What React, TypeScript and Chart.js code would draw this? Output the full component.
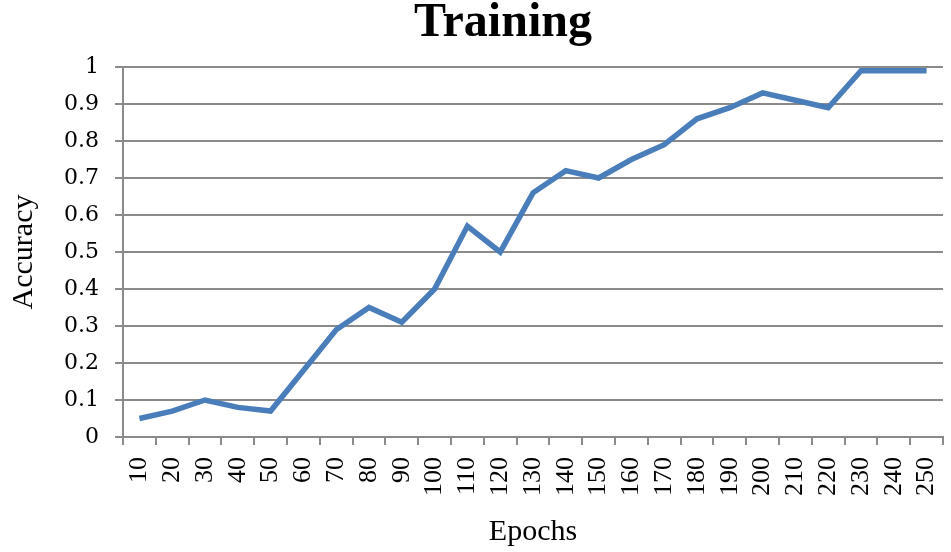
import React, { useEffect, useRef } from "react";
import { Chart, registerables } from "chart.js";

Chart.register(...registerables);

const epochs = ["10","20","30","40","50","60","70","80","90","100","110","120","130","140","150","160","170","180","190","200","210","220","230","240","250"];
const accuracy = [0.05,0.07,0.10,0.08,0.07,0.18,0.29,0.35,0.31,0.40,0.57,0.50,0.66,0.72,0.70,0.75,0.79,0.86,0.89,0.93,0.91,0.89,0.99,0.99,0.99];
const chartTitle = "Training";
const xTitle = "Epochs";
const yTitle = "Accuracy";

const titlePlugin = {
  id: "offsetTitle",
  afterDraw(chart: any) {
    const ctx = chart.ctx;
    ctx.save();
    ctx.fillStyle = "#000";
    ctx.font = "bold 48px 'Liberation Serif', serif";
    ctx.textAlign = "center";
    ctx.textBaseline = "alphabetic";
    ctx.fillText(chartTitle, 503, 36);
    ctx.restore();
  },
};

export default function App() {
  const ref = useRef<HTMLCanvasElement | null>(null);
  useEffect(() => {
    if (!ref.current) return;
    const grid = "#8a8a8a";
    const chart = new Chart(ref.current, {
      type: "line",
      data: {
        labels: epochs,
        datasets: [{
          data: accuracy,
          borderColor: "#4a7ebb",
          backgroundColor: "#4a7ebb",
          borderWidth: 5.5,
          pointRadius: 0,
          tension: 0,
          borderCapStyle: "butt",
          borderJoinStyle: "miter",
        }],
      },
      plugins: [titlePlugin],
      options: {
        animation: false,
        responsive: false,
        maintainAspectRatio: false,
        layout: { padding: { left: 0, right: 8, top: 67, bottom: 0 } },
        plugins: {
          legend: { display: false },
          tooltip: { enabled: false },
          title: { display: false },
        },
        scales: {
          x: {
            offset: true,
            grid: { offset: true, drawOnChartArea: false, drawTicks: true, tickLength: 8, color: grid, lineWidth: 2 },
            border: { display: true, color: grid, width: 2 },
            ticks: {
              color: "#000",
              font: { family: "'Liberation Serif', serif", size: 26 },
              minRotation: 90,
              maxRotation: 90,
              autoSkip: false,
              padding: 12,
            },
            title: {
              display: true,
              text: xTitle,
              color: "#000",
              font: { family: "'Liberation Serif', serif", size: 30 },
              padding: { top: 0, bottom: 2 },
            },
            afterFit: (s: any) => { s.height = 115; s.paddingLeft = 0; s.paddingRight = 0; },
          },
          y: {
            min: 0,
            max: 1,
            grid: { color: grid, lineWidth: 2, tickLength: 8, drawTicks: true },
            border: { display: true, color: grid, width: 2 },
            ticks: {
              stepSize: 0.1,
              color: "#000",
              font: { family: "'DejaVu Serif', serif", size: 22 },
              padding: 16,
              callback: (v: any) => String(Number(Number(v).toFixed(1))),
            },
            title: {
              display: true,
              text: yTitle,
              color: "#000",
              font: { family: "'Liberation Serif', serif", size: 30 },
              padding: { top: 6, bottom: 0 },
            },
            afterFit: (s: any) => { s.width = 123; s.paddingTop = 0; s.paddingBottom = 0; },
          },
        },
      },
    });
    return () => chart.destroy();
  }, []);
  return (
    <div style={{ position: "absolute", left: 0, top: 0, width: 951, height: 552, background: "#fff" }}>
      <canvas ref={ref} width={951} height={552} style={{ width: 951, height: 552 }} />
    </div>
  );
}
